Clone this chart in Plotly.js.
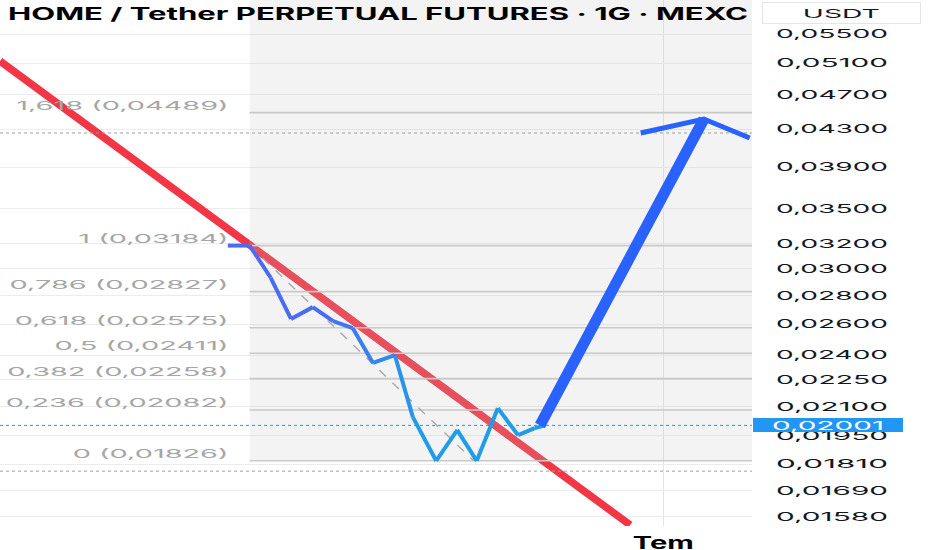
<!DOCTYPE html>
<html>
<head>
<meta charset="utf-8">
<script src="https://cdn.plot.ly/plotly-3.0.1.min.js"></script>
<style>
html,body{margin:0;padding:0;background:#fff;}
#chart{width:932px;height:550px;}
</style>
</head>
<body>
<div id="chart"></div>
<script>
// ---- data (time axis in bar units, prices in USDT) ----
const priceTime  = [30.3, 33.2, 36.0, 38.7, 41.6, 44.3, 46.9, 49.6, 52.5, 54.9, 58.0, 60.8, 63.4, 66.2, 68.9, 71.1, 72.5];
const priceValue = [0.03184, 0.03184, 0.0293, 0.02634, 0.02716, 0.0262, 0.02573, 0.02351, 0.0240, 0.02044, 0.01826, 0.01977, 0.01826, 0.02092, 0.01951, 0.01987, 0.02001];

const trendTime  = [0, 83.8];
const trendValue = [0.05129, 0.01547];

const projTime  = [71.8, 93.6];
const projValue = [0.02001, 0.04415];
const headTime  = [85.2, 93.6, 99.7];
const headValue = [0.04259, 0.04415, 0.04204];

const fibRatio = ['1,618', '1', '0,786', '0,618', '0,5', '0,382', '0,236', '0'];
const fibPrice = [0.04489, 0.03184, 0.02827, 0.02575, 0.02411, 0.02258, 0.02082, 0.01826];
const fibStartTime = 33.2;
const fibEndTime = 101;
const fibLabelTime = 30.4;

const fibDiagTime  = [33.2, 63.0];
const fibDiagValue = [0.03184, 0.01826];

const grayDottedLevels = [0.04259, 0.01778];
const lastPrice = 0.02001;

const tickValues = [0.055, 0.051, 0.047, 0.043, 0.039, 0.035, 0.032, 0.030, 0.028, 0.026, 0.024, 0.0225, 0.021, 0.0195, 0.0181, 0.0169, 0.0158];
const monthTick = [88.2];
const monthLabel = ['Tem'];

const yMin = 0.01543, yMax = 0.06005;
const xMin = 0, xMax = 100;

// ---- helpers ----
const fmt = v => v.toFixed(5).replace('.', ',');
const FONT = 'Inter, "Noto Sans", sans-serif';

const traces = [];

// trend line (red)
traces.push({x: trendTime, y: trendValue, mode: 'lines', line: {color: '#f23645', width: 7.5}, hoverinfo: 'skip'});

// fib zone shade (semi-transparent, above the trend line)
const fib0 = fibPrice[fibPrice.length - 1];
traces.push({
  x: [fibStartTime, fibEndTime, fibEndTime, fibStartTime, fibStartTime],
  y: [fib0, fib0, 0.08, 0.08, fib0],
  mode: 'lines', fill: 'toself', fillcolor: 'rgba(189,189,189,0.19)', line: {width: 0}, hoverinfo: 'skip'
});

// fib level lines
const fx = [], fy = [];
fibPrice.forEach(p => { fx.push(fibStartTime, fibEndTime, null); fy.push(p, p, null); });
traces.push({x: fx, y: fy, mode: 'lines', line: {color: '#c9c9c9', width: 1.6}, hoverinfo: 'skip'});

// fib diagonal (dashed)
traces.push({x: fibDiagTime, y: fibDiagValue, mode: 'lines', line: {color: '#a8a8a8', width: 1.4, dash: 'dash'}, hoverinfo: 'skip'});

// dotted levels
const gx = [], gy = [];
grayDottedLevels.forEach(p => { gx.push(xMin, xMax, null); gy.push(p, p, null); });
traces.push({x: gx, y: gy, mode: 'lines', line: {color: '#9e9e9e', width: 1, dash: 'dot'}, hoverinfo: 'skip'});
traces.push({x: [xMin, xMax], y: [lastPrice, lastPrice], mode: 'lines', line: {color: '#2196f3', width: 1, dash: 'dot'}, hoverinfo: 'skip'});

// fib labels
traces.push({
  x: fibPrice.map(() => fibLabelTime), y: fibPrice,
  mode: 'text', text: fibPrice.map((p, i) => fibRatio[i] + ' (' + fmt(p) + ')'),
  textposition: 'top left', textfont: {family: FONT, size: 12, color: '#a6a6a6'}, hoverinfo: 'skip'
});

// price path with gradient colour (segment by segment)
const c0 = [74, 108, 240], c1 = [33, 157, 232];
const n = priceTime.length - 1;
for (let i = 0; i < n; i++) {
  let t = Math.min(1, Math.max(0, (i - 4) / 5));
  const c = c0.map((v, k) => Math.round(v + (c1[k] - v) * t));
  traces.push({
    x: [priceTime[i], priceTime[i+1]], y: [priceValue[i], priceValue[i+1]],
    mode: 'lines', line: {color: 'rgb(' + c.join(',') + ')', width: 4}, hoverinfo: 'skip'
  });
}

// projection arrow
traces.push({x: projTime, y: projValue, mode: 'lines', line: {color: '#2962ff', width: 11}, hoverinfo: 'skip'});
traces.push({x: headTime, y: headValue, mode: 'lines', line: {color: '#2962ff', width: 5}, hoverinfo: 'skip'});

const layout = {
  width: 932, height: 550,
  margin: {l: 0, r: 180, t: 0, b: 24},
  paper_bgcolor: '#ffffff', plot_bgcolor: '#ffffff',
  showlegend: false,
  title: {
    text: 'HOME / Tether PERPETUAL FUTURES · 1G · MEXC',
    x: 8/932, xanchor: 'left', xref: 'container',
    y: 1 - 14/550, yanchor: 'middle', yref: 'container',
    font: {family: FONT, size: 17, color: '#000000', weight: 700}
  },
  xaxis: {
    range: [xMin, xMax], showline: false, zeroline: false,
    tickvals: monthTick, ticktext: monthLabel,
    tickfont: {family: FONT, size: 17, color: '#000000', weight: 700},
    showgrid: true, gridcolor: '#e4e4e4', gridwidth: 1.5, ticks: '', automargin: false,
    ticklabelstandoff: 5
  },
  yaxis: {
    type: 'log', side: 'right', range: [Math.log10(yMin), Math.log10(yMax)],
    tickvals: tickValues, ticktext: tickValues.map(fmt),
    tickfont: {family: FONT, size: 12, color: '#131722'},
    showgrid: true, gridcolor: '#ececec', gridwidth: 1,
    showline: false, zeroline: false, ticks: '', automargin: false,
    ticklabelstandoff: 23
  },
  annotations: [
    {xref: 'paper', yref: 'paper', x: 841/752, y: 1 - 13.5/526, xanchor: 'center', yanchor: 'middle',
     text: 'USDT', showarrow: false, font: {family: FONT, size: 12, color: '#131722'},
     width: 157, height: 20, bgcolor: '#ffffff', bordercolor: '#e3e5ea', borderwidth: 1, borderpad: 0},
    {xref: 'paper', yref: 'y', x: 753/752, y: Math.log10(lastPrice), xanchor: 'left', yanchor: 'middle',
     text: fmt(lastPrice), showarrow: false, font: {family: FONT, size: 12, color: '#ffffff'},
     width: 150, height: 14, bgcolor: '#2196f3', borderwidth: 0, borderpad: 0}
  ]
};

function stretch(el, w) {
  el.setAttribute('textLength', w);
  el.setAttribute('lengthAdjust', 'spacingAndGlyphs');
}

const gd = document.getElementById('chart');
Plotly.newPlot(gd, traces, layout, {staticPlot: true, displayModeBar: false}).then(() => {
  const t = gd.querySelector('.gtitle');
  if (t) stretch(t, 740);
  gd.querySelectorAll('.ytick text').forEach(e => stretch(e, 112));
  gd.querySelectorAll('.xtick text').forEach(e => stretch(e, 61));
  const labels = Array.from(gd.querySelectorAll('.textpoint text'));
  let ref = labels.find(e => e.textContent.indexOf('0,786') === 0);
  if (ref) {
    const k = 219 / ref.getComputedTextLength();
    labels.forEach(e => stretch(e, e.getComputedTextLength() * k));
  }
  const ann = gd.querySelectorAll('.annotation-text');
  if (ann[0]) stretch(ann[0], 77);
  if (ann[1]) stretch(ann[1], 112);
});
</script>
</body>
</html>
